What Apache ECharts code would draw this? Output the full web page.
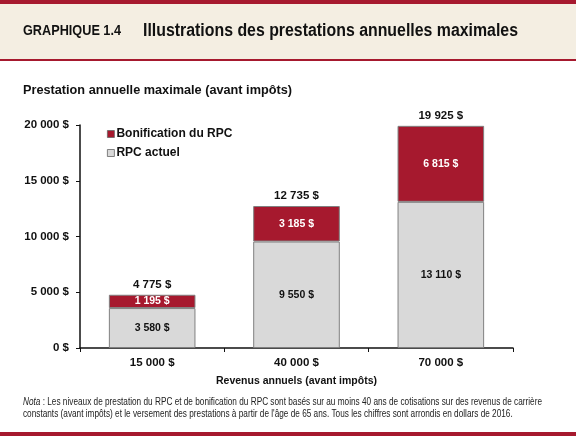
<!DOCTYPE html>
<html>
<head>
<meta charset="utf-8">
<script src="https://cdn.jsdelivr.net/npm/echarts@6/dist/echarts.min.js"></script>
<style>
  html, body { margin: 0; padding: 0; background: #fff; }
  #main { width: 576px; height: 436px; }
</style>
</head>
<body>
<div id="main"></div>
<script>
// donnees
const revenus = ['15 000 $', '40 000 $', '70 000 $'];
const rpcActuel = [3580, 9550, 13110];
const bonification = [1195, 3185, 6815];
const totaux = [4775, 12735, 19925];
const ticksY = [0, 5000, 10000, 15000, 20000];

const rouge = '#a6192e';
const gris = '#d9d9d9';
const police = '"Liberation Sans", Arial, sans-serif';

const nota1 = ' : Les niveaux de prestation du RPC et de bonification du RPC sont basés sur au moins 40 ans de cotisations sur des revenus de carrière';
const nota2 = 'constants (avant impôts) et le versement des prestations à partir de l\'âge de 65 ans. Tous les chiffres sont arrondis en dollars de 2016.';

function dollars(v) {
  return String(v).replace(/\B(?=(\d{3})+(?!\d))/g, ' ') + ' $';
}

// resserre le texte pour imiter la police etroite de l'original
const ctx = document.createElement('canvas').getContext('2d');
function serre(texte, taille, gras, largeur) {
  ctx.font = (gras ? 'bold ' : '') + taille + 'px ' + police;
  return Math.min(1, largeur / ctx.measureText(texte).width);
}

function texte(x, y, t, taille, gras, largeur) {
  return {
    type: 'text', x: x, y: y,
    scaleX: serre(t, taille, gras, largeur),
    style: { text: t, fontFamily: police, fontSize: taille, fontWeight: gras ? 'bold' : 'normal', fill: '#111', verticalAlign: 'middle' }
  };
}

var chartDom = document.getElementById('main');
var myChart = echarts.init(chartDom);
var option;

const sNota = serre('Nota' + nota1, 11, false, 519);

option = {
  animation: false,
  textStyle: { fontFamily: police },
  graphic: [
    { type: 'rect', shape: { x: 0, y: 0, width: 576, height: 4 }, style: { fill: rouge } },
    { type: 'rect', shape: { x: 0, y: 4, width: 576, height: 55 }, style: { fill: '#f4eee2' } },
    { type: 'rect', shape: { x: 0, y: 59, width: 576, height: 2 }, style: { fill: rouge } },
    { type: 'rect', shape: { x: 0, y: 432, width: 576, height: 4 }, style: { fill: rouge } },
    texte(23, 31, 'GRAPHIQUE 1.4', 14, true, 98),
    texte(143, 31, 'Illustrations des prestations annuelles maximales', 17.5, true, 375),
    texte(23, 90, 'Prestation annuelle maximale (avant impôts)', 13.5, true, 269),
    {
      type: 'text', x: 23, y: 408, scaleX: sNota,
      style: {
        text: '{i|Nota}' + nota1 + '\n' + nota2,
        fontFamily: police, fontSize: 11, fill: '#222', lineHeight: 12, verticalAlign: 'middle',
        rich: { i: { fontStyle: 'italic', fontFamily: police, fontSize: 11, fill: '#222' } }
      }
    }
  ],
  legend: {
    data: ['Bonification du RPC', 'RPC actuel'],
    orient: 'vertical',
    left: 107,
    top: 127,
    padding: 0,
    itemWidth: 7,
    itemHeight: 7,
    itemGap: 5,
    icon: 'rect',
    itemStyle: { borderColor: '#666', borderWidth: 0.8 },
    textStyle: { fontFamily: police, fontSize: 12, fontWeight: 'bold', color: '#111', lineHeight: 14, padding: [0, 0, 0, -3] }
  },
  grid: { left: 80, right: 63, top: 125, bottom: 88 },
  xAxis: {
    type: 'category',
    data: revenus,
    name: 'Revenus annuels (avant impôts)',
    nameLocation: 'middle',
    nameGap: 28,
    nameTextStyle: { fontFamily: police, fontSize: 10.5, fontWeight: 'bold', color: '#111' },
    axisLine: { lineStyle: { color: '#111', width: 1.5 } },
    axisTick: { show: true, length: 4, lineStyle: { color: '#111' } },
    axisLabel: { margin: 9, fontFamily: police, fontSize: 11.5, fontWeight: 'bold', color: '#111' }
  },
  yAxis: {
    type: 'value',
    min: ticksY[0],
    max: ticksY[ticksY.length - 1],
    interval: 5000,
    axisLine: { show: true, lineStyle: { color: '#111', width: 1.5 } },
    axisTick: { show: true, length: 4, lineStyle: { color: '#111' } },
    splitLine: { show: false },
    axisLabel: { margin: 11, formatter: dollars, fontFamily: police, fontSize: 11.5, fontWeight: 'bold', color: '#111' }
  },
  series: [
    {
      name: 'RPC actuel',
      type: 'bar',
      stack: 'total',
      barWidth: '60%',
      data: rpcActuel,
      itemStyle: { color: gris, borderColor: '#808080', borderWidth: 1 },
      label: { show: true, position: 'inside', formatter: p => dollars(p.value), fontFamily: police, fontSize: 10.5, fontWeight: 'bold', color: '#111' }
    },
    {
      name: 'Bonification du RPC',
      type: 'bar',
      stack: 'total',
      data: bonification,
      itemStyle: { color: rouge, borderColor: '#808080', borderWidth: 1 },
      label: { show: true, position: 'inside', formatter: p => dollars(p.value), fontFamily: police, fontSize: 10.5, fontWeight: 'bold', color: '#fff' }
    },
    {
      name: 'Total',
      type: 'bar',
      stack: 'total',
      data: totaux.map(() => 0),
      itemStyle: { color: 'transparent' },
      label: { show: true, position: 'top', distance: 4, formatter: p => dollars(totaux[p.dataIndex]), fontFamily: police, fontSize: 11.5, fontWeight: 'bold', color: '#111' }
    }
  ]
};
option && myChart.setOption(option);
</script>
</body>
</html>
